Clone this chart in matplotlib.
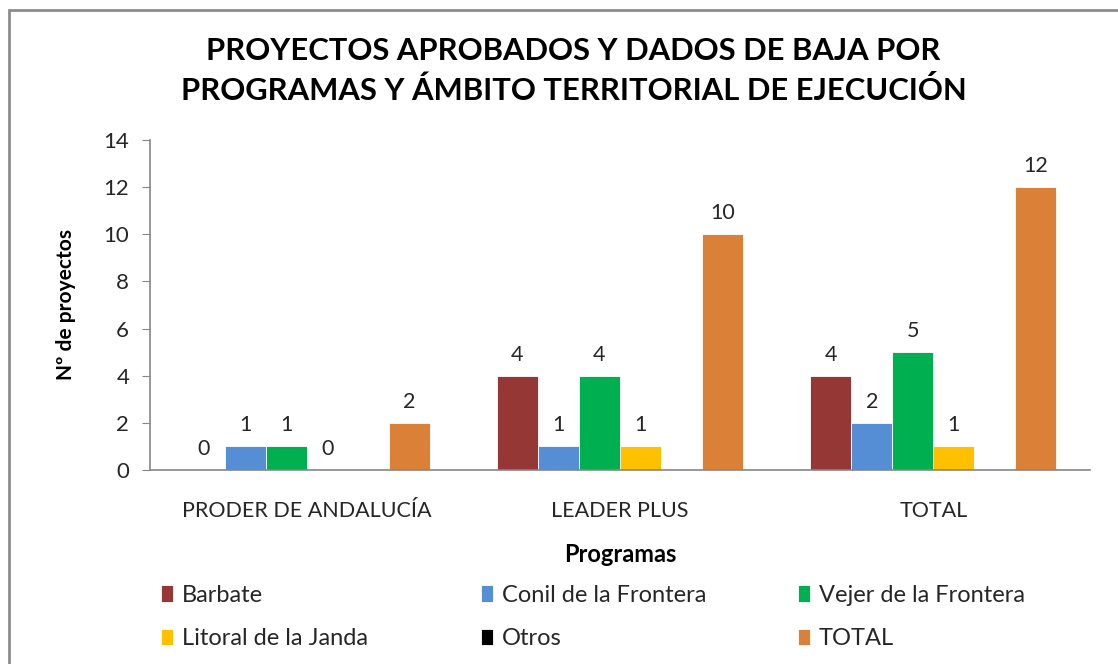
import numpy as np
import matplotlib
matplotlib.use("Agg")
import matplotlib.pyplot as plt
from matplotlib.patches import Rectangle

plt.rcParams['font.family'] = ['Lato', 'DejaVu Sans']

# datos
programas = ["PRODER DE ANDALUCÍA", "LEADER PLUS", "TOTAL"]
series = ["Barbate", "Conil de la Frontera", "Vejer de la Frontera",
          "Litoral de la Janda", "Otros", "TOTAL"]
barbate = [0, 4, 4]
conil = [1, 1, 2]
vejer = [1, 4, 5]
litoral = [0, 1, 1]
otros = [np.nan, np.nan, np.nan]
total = [2, 10, 12]
colores = ["#953735", "#558ED5", "#00B050", "#FFC000", "#000000", "#DA8137"]

valores = [barbate, conil, vejer, litoral, otros, total]

fig = plt.figure(figsize=(11.18, 6.64), dpi=100)
ax = fig.add_axes([150 / 1118, 1 - 470 / 664, 940 / 1118, 330 / 664])

x = np.arange(len(programas))
w = 0.131
handles = []
for i, (nombre, vals, col) in enumerate(zip(series, valores, colores)):
    b = ax.bar(x + (i - 2.5) * w, vals, w, color=col, edgecolor="white",
               linewidth=0.6, label=nombre)
    handles.append(b)
    etiquetas = ["" if np.isnan(v) else f"{v:g}" for v in vals]
    ax.bar_label(b, labels=etiquetas, padding=8, fontsize=15.5, color="#262626")

ax.set_xlim(-0.5, 2.5)
ax.set_ylim(0, 14)
ax.set_yticks(range(0, 15, 2))
ax.set_xticks(x)
ax.set_xticklabels(programas)
ax.tick_params(axis="y", length=6, color="#868686", labelsize=16,
               labelcolor="#262626", pad=9)
ax.tick_params(axis="x", length=0, labelsize=15.5, labelcolor="#262626", pad=22)
for s in ["top", "right"]:
    ax.spines[s].set_visible(False)
for s in ["left", "bottom"]:
    ax.spines[s].set_color("#868686")
    ax.spines[s].set_linewidth(1.2)

ax.set_ylabel("Nº de proyectos", fontsize=15, fontweight="bold", labelpad=20)
ax.set_xlabel("Programas", fontsize=17, fontweight="bold", labelpad=16)

fig.text(0.513, 1 - 71 / 664, "PROYECTOS APROBADOS Y DADOS DE BAJA POR\n"
         "PROGRAMAS Y ÁMBITO TERRITORIAL DE EJECUCIÓN",
         ha="center", va="center", fontsize=22.3, fontweight="bold",
         linespacing=1.45)

# leyenda: tres columnas, dos filas
columnas = [[0, 3], [1, 4], [2, 5]]
xcol = [161, 481, 798]
for xc, idx in zip(xcol, columnas):
    fig.legend([handles[k] for k in idx], [series[k] for k in idx],
               loc="center left", bbox_to_anchor=(xc / 1118, 1 - 617 / 664),
               frameon=False, fontsize=17, handlelength=0.52, handleheight=0.7,
               handletextpad=0.35, labelspacing=0.96, borderpad=0,
               borderaxespad=0, labelcolor="#262626")

fig.patches.append(Rectangle((9 / 1118, -0.1), 1.2, 1.1 - 10 / 664,
                             transform=fig.transFigure, fill=False,
                             edgecolor="#8c8c8c", linewidth=2))

fig.savefig("out.png", dpi=100)
